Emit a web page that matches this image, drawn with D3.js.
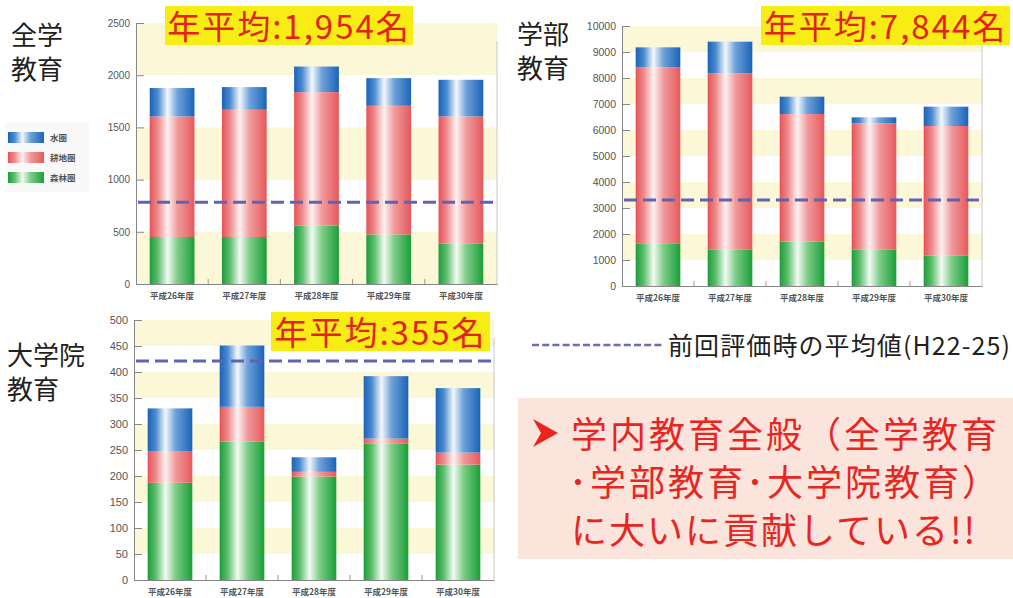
<!DOCTYPE html>
<html>
<head>
<meta charset="utf-8">
<script src="https://cdn.jsdelivr.net/npm/d3@7"></script>
<style>
  body { margin: 0; background: #fff; }
  svg { display: block; font-family: "Liberation Sans", "Noto Sans CJK JP", sans-serif; }
</style>
</head>
<body>
<div class="chart"></div>
<script>
// categories
const years = ['平成26年度', '平成27年度', '平成28年度', '平成29年度', '平成30年度'];
const keys = ['forest', 'farm', 'water'];
const legendNames = ['水圏', '耕地圏', '森林圏'];

// 全学教育
const zenForest = [450, 450, 558, 475, 386];
const zenFarm = [1155, 1219, 1280, 1232, 1219];
const zenWater = [272, 217, 245, 265, 351];
const zenAvg = '1,954';
const zenPrev = 782;

// 学部教育
const gakForest = [1641, 1410, 1705, 1410, 1167];
const gakFarm = [6769, 6769, 4910, 4846, 4987];
const gakWater = [769, 1218, 667, 231, 743];
const gakAvg = '7,844';
const gakPrev = 3308;

// 大学院教育
const inForest = [187, 266, 199, 262, 222];
const inFarm = [60, 67, 9, 10, 23];
const inWater = [83, 118, 28, 120, 124];
const inAvg = '355';
const inPrev = 421;

const W = 1013, H = 598;
const svg = d3.select('.chart').append('svg')
  .attr('width', W).attr('height', H);

const cjk = '"Noto Sans CJK JP", sans-serif';

// bar gradients (cylinder look)
const defs = svg.append('defs');
const grads = {
  water: ['#1b62b6', '#4a8ad0', '#f4f8fd', '#6fa2da', '#1a63b8'],
  farm:  ['#e65256', '#ee8a8c', '#fdf1f1', '#f19b9c', '#e6585b'],
  forest:['#1c9c3a', '#5dbd6d', '#f2faf2', '#7fcd89', '#1a9e37']
};
Object.entries(grads).forEach(([k, c]) => {
  const g = defs.append('linearGradient').attr('id', 'g-' + k)
    .attr('x1', 0).attr('x2', 1).attr('y1', 0).attr('y2', 0);
  [0, 0.18, 0.4, 0.62, 1].forEach((o, i) => {
    g.append('stop').attr('offset', o).attr('stop-color', c[i]);
  });
});

function drawChart(o) {
  const table = years.map((y, i) => ({year: y, forest: o.forest[i], farm: o.farm[i], water: o.water[i]}));
  const series = d3.stack().keys(keys)(table);

  const x = d3.scaleBand().domain(years).range([o.x0, o.x1])
    .paddingInner(0.38).paddingOuter(0.19);
  const y = d3.scaleLinear().domain([0, o.max]).range([o.y0, o.y1]);

  const g = svg.append('g');

  // white image background
  g.append('rect')
    .attr('x', o.bgX).attr('y', o.y1 - 20)
    .attr('width', o.x1 + 10 - o.bgX).attr('height', o.y0 - o.y1 + 40)
    .attr('fill', '#fff');

  // alternating pale yellow bands
  const steps = d3.range(0, o.max, o.step);
  g.selectAll('rect.band')
    .data(steps.filter((d, i) => (steps.length - 1 - i) % 2 === 0))
    .join('rect')
    .attr('class', 'band')
    .attr('x', o.x0).attr('width', o.x1 - o.x0)
    .attr('y', d => y(d + o.step))
    .attr('height', d => y(d) - y(d + o.step))
    .attr('fill', '#fcf7d6');

  // bars
  g.selectAll('g.layer')
    .data(series)
    .join('g')
    .attr('class', 'layer')
    .attr('fill', d => 'url(#g-' + d.key + ')')
    .selectAll('rect')
    .data(d => d)
    .join('rect')
    .attr('x', d => x(d.data.year))
    .attr('width', x.bandwidth())
    .attr('y', d => y(d[1]))
    .attr('height', d => y(d[0]) - y(d[1]));

  // right border
  g.append('line')
    .attr('x1', o.x1).attr('x2', o.x1)
    .attr('y1', y(o.max) + 18).attr('y2', o.y0)
    .attr('stroke', '#c8c8c8');

  // y axis
  const yAxis = g.append('g')
    .attr('transform', `translate(${o.x0},0)`)
    .call(d3.axisLeft(y).tickValues(d3.range(0, o.max + 1, o.step))
      .tickFormat(d3.format('d'))
      .tickSizeInner(-8).tickSizeOuter(0).tickPadding(6));
  yAxis.select('.domain').attr('stroke', '#888');
  yAxis.selectAll('.tick line').attr('stroke', '#888');
  yAxis.selectAll('.tick text')
    .attr('fill', '#555').attr('font-size', o.tickFont)
    .attr('font-family', '"Liberation Sans Narrow", "Liberation Sans", sans-serif');

  // x axis
  const xAxis = g.append('g')
    .attr('transform', `translate(0,${o.y0})`)
    .call(d3.axisBottom(x).tickSize(0).tickPadding(9));
  xAxis.select('.domain').attr('stroke', '#888');
  xAxis.selectAll('.tick text')
    .attr('fill', '#555').attr('font-size', 8.5).attr('font-weight', 'bold')
    .attr('font-family', cjk);

  // small marks between categories
  g.selectAll('line.sep')
    .data(years.slice(1))
    .join('line')
    .attr('class', 'sep')
    .attr('x1', d => x(d) - x.step() * x.paddingInner() / 2)
    .attr('x2', d => x(d) - x.step() * x.paddingInner() / 2)
    .attr('y1', o.y0).attr('y2', o.y0 - 5)
    .attr('stroke', '#999');

  // previous average
  g.append('line')
    .attr('x1', o.x0 + 2).attr('x2', o.x1 - 3)
    .attr('y1', y(o.prev)).attr('y2', y(o.prev))
    .attr('stroke', '#5f63b4').attr('stroke-width', 3)
    .attr('stroke-dasharray', '13,6');

  // yearly average label
  g.append('rect')
    .attr('x', o.lab[0]).attr('y', o.lab[1])
    .attr('width', o.lab[2]).attr('height', 39)
    .attr('fill', '#f7ec13');
  g.append('text')
    .attr('x', o.lab[0] + o.lab[2] / 2).attr('y', o.lab[1] + 33)
    .attr('text-anchor', 'middle')
    .attr('font-size', 33).attr('fill', '#e3221b')
    .attr('letter-spacing', 2)
    .attr('font-family', cjk)
    .text('年平均:' + o.avg + '名');
}

// titles (drawn first, chart 2 covers part of its title)
function title(lines, x, y) {
  lines.forEach((l, i) => svg.append('text')
    .attr('font-family', cjk).attr('font-size', 26).attr('fill', '#231f20')
    .attr('x', x).attr('y', y + i * 34).text(l));
}
title(['全学', '教育'], 11, 45);
title(['学部', '教育'], 517, 44);
title(['大学院', '教育'], 7, 365);

drawChart({forest: zenForest, farm: zenFarm, water: zenWater, avg: zenAvg, prev: zenPrev,
  max: 2500, step: 500, x0: 136, x1: 497, y0: 284, y1: 23, bgX: 100, tickFont: 10,
  lab: [165, 6, 248]});
drawChart({forest: gakForest, farm: gakFarm, water: gakWater, avg: gakAvg, prev: gakPrev,
  max: 10000, step: 1000, x0: 622, x1: 982, y0: 286, y1: 26, bgX: 573, tickFont: 10.5,
  lab: [761, 6, 249]});
drawChart({forest: inForest, farm: inFarm, water: inWater, avg: inAvg, prev: inPrev,
  max: 500, step: 50, x0: 134, x1: 494, y0: 580, y1: 320, bgX: 100, tickFont: 11,
  lab: [271, 312, 219]});

// legend
const legend = svg.append('g').attr('transform', 'translate(5,122)');
legend.append('rect').attr('width', 84).attr('height', 70).attr('fill', '#f9f9f9');
const lgKeys = ['water', 'farm', 'forest'];
legend.selectAll('rect.sw')
  .data(lgKeys)
  .join('rect')
  .attr('class', 'sw')
  .attr('x', 3).attr('y', (d, i) => 10 + i * 20)
  .attr('width', 36).attr('height', 11)
  .attr('fill', d => 'url(#g-' + d + ')');
legend.selectAll('text')
  .data(legendNames)
  .join('text')
  .attr('x', 45).attr('y', (d, i) => 19 + i * 20)
  .attr('font-size', 8.5).attr('font-weight', 'bold')
  .attr('fill', '#555').attr('font-family', cjk)
  .text(d => d);

// dashed line legend
svg.append('line')
  .attr('x1', 532).attr('x2', 663).attr('y1', 345).attr('y2', 345)
  .attr('stroke', '#6a6db5').attr('stroke-width', 2.5)
  .attr('stroke-dasharray', '7,3.2');
svg.append('text')
  .attr('x', 668).attr('y', 355)
  .attr('font-size', 25).attr('fill', '#231f20')
  .attr('letter-spacing', 1.1)
  .attr('font-family', cjk)
  .text('前回評価時の平均値(H22-25)');

// conclusion box
svg.append('rect')
  .attr('x', 518).attr('y', 398).attr('width', 495).attr('height', 161)
  .attr('fill', '#fbe4dc');
svg.append('path')
  .attr('d', 'M533,419 L558,433 L533,447 L541,433 Z')
  .attr('fill', '#e8251f');
const msg = ['学内教育全般（全学教育', '･学部教育･大学院教育）', 'に大いに貢献している!!'];
const msgSpacing = [3, 3, 2];
svg.selectAll('text.msg')
  .data(msg)
  .join('text')
  .attr('class', 'msg')
  .attr('x', (d, i) => i === 1 ? 569 : 571)
  .attr('y', (d, i) => 448 + i * 48)
  .attr('font-size', 36).attr('fill', '#e8251f')
  .attr('letter-spacing', (d, i) => msgSpacing[i])
  .attr('font-family', cjk)
  .text(d => d);
</script>
</body>
</html>
